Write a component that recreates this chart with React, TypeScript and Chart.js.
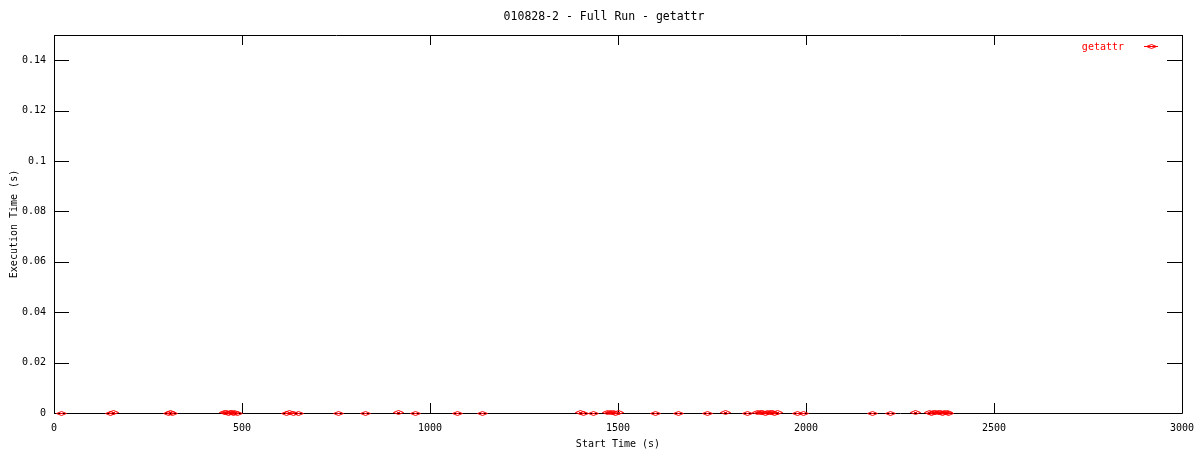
import React, { useEffect, useRef } from "react";
import { Chart, registerables } from "chart.js";

Chart.register(...registerables);

const chartTitle = "010828-2 - Full Run - getattr";
const seriesName = "getattr";
const xTitle = "Start Time (s)";
const yTitle = "Execution Time (s)";
const xTicks = [0, 500, 1000, 1500, 2000, 2500, 3000];
const yTicks = [0, 0.02, 0.04, 0.06, 0.08, 0.1, 0.12, 0.14];

const startTimes = [
  19, 150, 156, 304, 309, 314, 452, 458, 463, 467, 471, 475, 480, 486,
  617, 626, 636, 649, 755, 827, 915, 960, 1072, 1138, 1400, 1407, 1434,
  1472, 1479, 1486, 1492, 1499, 1598, 1660, 1737, 1785, 1843, 1870, 1877,
  1884, 1890, 1897, 1903, 1910, 1916, 1922, 1976, 1992, 2176, 2223, 2290,
  2326, 2332, 2338, 2344, 2350, 2356, 2362, 2368, 2374, 2378,
];
const execTimes = [
  0.0003, 0.0002, 0.0004, 0.0003, 0.0005, 0.0002, 0.0004, 0.0006, 0.0003,
  0.0005, 0.0004, 0.0002, 0.0006, 0.0003, 0.0002, 0.0004, 0.0003, 0.0002,
  0.0003, 0.0002, 0.0004, 0.0003, 0.0002, 0.0003, 0.0004, 0.0002, 0.0003,
  0.0005, 0.0004, 0.0006, 0.0003, 0.0004, 0.0002, 0.0003, 0.0002, 0.0004,
  0.0003, 0.0004, 0.0006, 0.0005, 0.0003, 0.0007, 0.0004, 0.0005, 0.0003,
  0.0006, 0.0003, 0.0002, 0.0003, 0.0002, 0.0004, 0.0005, 0.0003, 0.0006,
  0.0004, 0.0007, 0.0005, 0.0003, 0.0006, 0.0004, 0.0003,
];

const FONT = "'DejaVu Sans Mono', monospace";
const RED = "#ff0000";

function drawDiamond(ctx: CanvasRenderingContext2D, cx: number, cy: number) {
  const x = Math.round(cx);
  const y = Math.round(cy);
  ctx.beginPath();
  ctx.moveTo(x - 4.5, y + 0.5);
  ctx.lineTo(x + 0.5, y - 1.5);
  ctx.lineTo(x + 5.5, y + 0.5);
  ctx.lineTo(x + 0.5, y + 2.5);
  ctx.closePath();
  ctx.stroke();
  ctx.fillRect(x - 1, y, 3, 1);
}

export default function App() {
  const ref = useRef<HTMLCanvasElement>(null);
  useEffect(() => {
    document.body.style.margin = "0";
    const framePlugin = {
      id: "frame",
      afterDraw(chart: any) {
        const { ctx, chartArea: a, scales } = chart;
        ctx.save();
        ctx.strokeStyle = "#000";
        ctx.lineWidth = 1;
        ctx.beginPath();
        ctx.rect(Math.round(a.left) + 0.5, Math.round(a.top) + 0.5, Math.round(a.right - a.left), Math.round(a.bottom - a.top));
        for (const v of yTicks) {
          const y = Math.round(scales.y.getPixelForValue(v)) + 0.5;
          ctx.moveTo(a.left, y);
          ctx.lineTo(a.left + 15, y);
          ctx.moveTo(a.right, y);
          ctx.lineTo(a.right - 15, y);
        }
        for (const v of xTicks) {
          const x = Math.round(scales.x.getPixelForValue(v)) + 0.5;
          ctx.moveTo(x, a.bottom);
          ctx.lineTo(x, a.bottom - 10);
          ctx.moveTo(x, a.top);
          ctx.lineTo(x, a.top + 10);
        }
        ctx.stroke();
        // markers
        ctx.strokeStyle = RED;
        ctx.fillStyle = RED;
        const meta = chart.getDatasetMeta(0);
        for (const el of meta.data) drawDiamond(ctx, el.x, el.y + 0.5);
        // title
        ctx.fillStyle = "#000";
        ctx.font = `11.5px ${FONT}`;
        ctx.textAlign = "center";
        ctx.textBaseline = "middle";
        ctx.fillText(chartTitle, 604, 17);
        // legend
        ctx.fillStyle = RED;
        ctx.font = `10px ${FONT}`;
        ctx.textAlign = "right";
        ctx.fillText(seriesName, 1124, 47);
        ctx.beginPath();
        ctx.moveTo(1144, 46.5);
        ctx.lineTo(1158, 46.5);
        ctx.stroke();
        drawDiamond(ctx, 1151, 46);
        ctx.restore();
      },
    };
    const chart = new Chart(ref.current!, {
      type: "scatter",
      data: {
        datasets: [
          {
            label: seriesName,
            data: startTimes.map((x, i) => ({ x, y: execTimes[i] })),
            pointRadius: 0,
            borderColor: RED,
            backgroundColor: RED,
          },
        ],
      },
      options: {
        animation: false,
        responsive: false,
        layout: { padding: { top: 35, right: 18, left: 0, bottom: 0 } },
        plugins: { legend: { display: false }, tooltip: { enabled: false }, title: { display: false } },
        scales: {
          x: {
            type: "linear",
            min: 0,
            max: 3000,
            grid: { display: false, drawTicks: false },
            border: { display: false },
            afterBuildTicks: (s: any) => {
              s.ticks = xTicks.map((v) => ({ value: v }));
            },
            afterFit: (s: any) => {
              s.height = 37;
              s.paddingLeft = 0;
              s.paddingRight = 0;
            },
            ticks: {
              color: "#000",
              font: { family: FONT, size: 10 },
              padding: 9,
              maxRotation: 0,
              callback: (v: any) => String(v),
            },
            title: { display: true, text: xTitle, color: "#000", font: { family: FONT, size: 10 }, padding: { top: 0, bottom: 0 } },
          },
          y: {
            type: "linear",
            min: 0,
            max: 0.15,
            grid: { display: false, drawTicks: false },
            border: { display: false },
            afterBuildTicks: (s: any) => {
              s.ticks = yTicks.map((v) => ({ value: v }));
            },
            afterFit: (s: any) => {
              s.width = 54;
              s.paddingTop = 0;
              s.paddingBottom = 0;
            },
            ticks: {
              color: "#000",
              font: { family: FONT, size: 10 },
              padding: 8,
              callback: (v: any) => String(Math.round(Number(v) * 100) / 100),
            },
            title: { display: true, text: yTitle, color: "#000", font: { family: FONT, size: 10 }, padding: { top: 8, bottom: 0 } },
          },
        },
      },
      plugins: [framePlugin],
    });
    return () => chart.destroy();
  }, []);
  return (
    <div style={{ position: "absolute", left: 0, top: 0, width: 1200, height: 450, background: "#fff" }}>
      <canvas ref={ref} width={1200} height={450} />
    </div>
  );
}
